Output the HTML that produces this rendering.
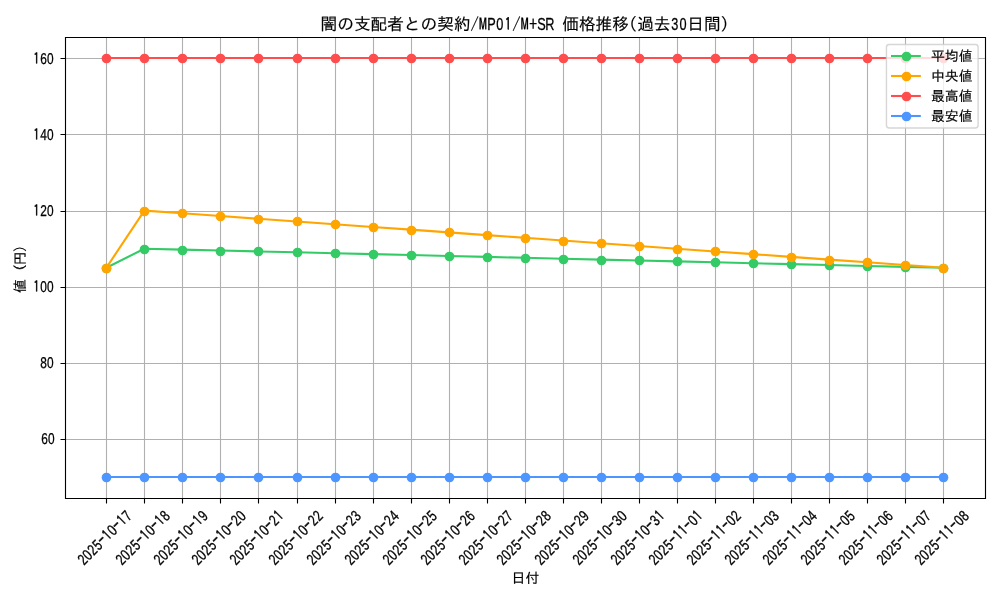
<!DOCTYPE html>
<html lang="ja"><head><meta charset="utf-8"><title>価格推移</title>
<style>html,body{margin:0;padding:0;background:#fff;overflow:hidden}svg{display:block}text{font-family:"IPAGothic", "Liberation Sans", sans-serif;fill:#000;stroke:#000;stroke-width:.16px;stroke-linejoin:round}.l{font-family:"Liberation Sans", "IPAGothic", sans-serif;stroke-width:.3px}.g{font-family:"IPAGothic", "Liberation Sans", sans-serif}.l .g{stroke-width:.5px}</style></head><body>
<svg width="1000" height="600" viewBox="0 0 1000 600">
<rect width="1000" height="600" fill="#fff"/>
<path d="M105.945 37.25h1.11V498.25h-1.11zM143.945 37.25h1.11V498.25h-1.11zM181.945 37.25h1.11V498.25h-1.11zM219.945 37.25h1.11V498.25h-1.11zM257.945 37.25h1.11V498.25h-1.11zM296.945 37.25h1.11V498.25h-1.11zM334.945 37.25h1.11V498.25h-1.11zM372.945 37.25h1.11V498.25h-1.11zM410.945 37.25h1.11V498.25h-1.11zM448.945 37.25h1.11V498.25h-1.11zM486.945 37.25h1.11V498.25h-1.11zM524.945 37.25h1.11V498.25h-1.11zM562.945 37.25h1.11V498.25h-1.11zM600.945 37.25h1.11V498.25h-1.11zM638.945 37.25h1.11V498.25h-1.11zM676.945 37.25h1.11V498.25h-1.11zM714.945 37.25h1.11V498.25h-1.11zM752.945 37.25h1.11V498.25h-1.11zM790.945 37.25h1.11V498.25h-1.11zM828.945 37.25h1.11V498.25h-1.11zM866.945 37.25h1.11V498.25h-1.11zM904.945 37.25h1.11V498.25h-1.11zM942.945 37.25h1.11V498.25h-1.11zM64.50 438.945H985.00v1.11H64.50zM64.50 362.945H985.00v1.11H64.50zM64.50 286.945H985.00v1.11H64.50zM64.50 210.945H985.00v1.11H64.50zM64.50 133.945H985.00v1.11H64.50zM64.50 57.945H985.00v1.11H64.50z" fill="#b0b0b0"/>
<path d="M105.945 498.50h1.11V503.50h-1.11zM143.945 498.50h1.11V503.50h-1.11zM181.945 498.50h1.11V503.50h-1.11zM219.945 498.50h1.11V503.50h-1.11zM257.945 498.50h1.11V503.50h-1.11zM296.945 498.50h1.11V503.50h-1.11zM334.945 498.50h1.11V503.50h-1.11zM372.945 498.50h1.11V503.50h-1.11zM410.945 498.50h1.11V503.50h-1.11zM448.945 498.50h1.11V503.50h-1.11zM486.945 498.50h1.11V503.50h-1.11zM524.945 498.50h1.11V503.50h-1.11zM562.945 498.50h1.11V503.50h-1.11zM600.945 498.50h1.11V503.50h-1.11zM638.945 498.50h1.11V503.50h-1.11zM676.945 498.50h1.11V503.50h-1.11zM714.945 498.50h1.11V503.50h-1.11zM752.945 498.50h1.11V503.50h-1.11zM790.945 498.50h1.11V503.50h-1.11zM828.945 498.50h1.11V503.50h-1.11zM866.945 498.50h1.11V503.50h-1.11zM904.945 498.50h1.11V503.50h-1.11zM942.945 498.50h1.11V503.50h-1.11zM60.50 438.945H65.50v1.11H60.50zM60.50 362.945H65.50v1.11H60.50zM60.50 286.945H65.50v1.11H60.50zM60.50 210.945H65.50v1.11H60.50zM60.50 133.945H65.50v1.11H60.50zM60.50 57.945H65.50v1.11H60.50z" fill="#000"/>
<polyline points="106.34,267.75 144.38,248.70 182.42,249.61 220.45,250.51 258.49,251.42 296.53,252.33 334.56,253.24 372.60,254.14 410.64,255.05 448.68,255.96 486.71,256.86 524.75,257.77 562.79,258.68 600.82,259.59 638.86,260.49 676.90,261.40 714.94,262.31 752.97,263.21 791.01,264.12 829.05,265.03 867.08,265.94 905.12,266.84 943.16,267.75" fill="none" stroke="#34cb67" stroke-width="2.08" stroke-linejoin="round" stroke-linecap="square"/>
<g fill="#34cb67"><circle cx="106.5" cy="268.5" r="4.86"/><circle cx="144.5" cy="249.5" r="4.86"/><circle cx="182.5" cy="250.5" r="4.86"/><circle cx="220.5" cy="251.5" r="4.86"/><circle cx="258.5" cy="251.5" r="4.86"/><circle cx="297.5" cy="252.5" r="4.86"/><circle cx="335.5" cy="253.5" r="4.86"/><circle cx="373.5" cy="254.5" r="4.86"/><circle cx="411.5" cy="255.5" r="4.86"/><circle cx="449.5" cy="256.5" r="4.86"/><circle cx="487.5" cy="257.5" r="4.86"/><circle cx="525.5" cy="258.5" r="4.86"/><circle cx="563.5" cy="259.5" r="4.86"/><circle cx="601.5" cy="260.5" r="4.86"/><circle cx="639.5" cy="260.5" r="4.86"/><circle cx="677.5" cy="261.5" r="4.86"/><circle cx="715.5" cy="262.5" r="4.86"/><circle cx="753.5" cy="263.5" r="4.86"/><circle cx="791.5" cy="264.5" r="4.86"/><circle cx="829.5" cy="265.5" r="4.86"/><circle cx="867.5" cy="266.5" r="4.86"/><circle cx="905.5" cy="267.5" r="4.86"/><circle cx="943.5" cy="268.5" r="4.86"/></g>
<polyline points="106.34,267.75 144.38,210.60 182.42,213.32 220.45,216.04 258.49,218.77 296.53,221.49 334.56,224.21 372.60,226.93 410.64,229.65 448.68,232.37 486.71,235.09 524.75,237.81 562.79,240.54 600.82,243.26 638.86,245.98 676.90,248.70 714.94,251.42 752.97,254.14 791.01,256.86 829.05,259.59 867.08,262.31 905.12,265.03 943.16,267.75" fill="none" stroke="#ffa500" stroke-width="2.08" stroke-linejoin="round" stroke-linecap="square"/>
<g fill="#ffa500"><circle cx="106.5" cy="268.5" r="4.86"/><circle cx="144.5" cy="211.5" r="4.86"/><circle cx="182.5" cy="213.5" r="4.86"/><circle cx="220.5" cy="216.5" r="4.86"/><circle cx="258.5" cy="219.5" r="4.86"/><circle cx="297.5" cy="221.5" r="4.86"/><circle cx="335.5" cy="224.5" r="4.86"/><circle cx="373.5" cy="227.5" r="4.86"/><circle cx="411.5" cy="230.5" r="4.86"/><circle cx="449.5" cy="232.5" r="4.86"/><circle cx="487.5" cy="235.5" r="4.86"/><circle cx="525.5" cy="238.5" r="4.86"/><circle cx="563.5" cy="241.5" r="4.86"/><circle cx="601.5" cy="243.5" r="4.86"/><circle cx="639.5" cy="246.5" r="4.86"/><circle cx="677.5" cy="249.5" r="4.86"/><circle cx="715.5" cy="251.5" r="4.86"/><circle cx="753.5" cy="254.5" r="4.86"/><circle cx="791.5" cy="257.5" r="4.86"/><circle cx="829.5" cy="260.5" r="4.86"/><circle cx="867.5" cy="262.5" r="4.86"/><circle cx="905.5" cy="265.5" r="4.86"/><circle cx="943.5" cy="268.5" r="4.86"/></g>
<polyline points="106.34,58.00 144.38,58.00 182.42,58.00 220.45,58.00 258.49,58.00 296.53,58.00 334.56,58.00 372.60,58.00 410.64,58.00 448.68,58.00 486.71,58.00 524.75,58.00 562.79,58.00 600.82,58.00 638.86,58.00 676.90,58.00 714.94,58.00 752.97,58.00 791.01,58.00 829.05,58.00 867.08,58.00 905.12,58.00 943.16,58.00" fill="none" stroke="#ff4d4d" stroke-width="2.08" stroke-linejoin="round" stroke-linecap="square"/>
<g fill="#ff4d4d"><circle cx="106.5" cy="58.5" r="4.86"/><circle cx="144.5" cy="58.5" r="4.86"/><circle cx="182.5" cy="58.5" r="4.86"/><circle cx="220.5" cy="58.5" r="4.86"/><circle cx="258.5" cy="58.5" r="4.86"/><circle cx="297.5" cy="58.5" r="4.86"/><circle cx="335.5" cy="58.5" r="4.86"/><circle cx="373.5" cy="58.5" r="4.86"/><circle cx="411.5" cy="58.5" r="4.86"/><circle cx="449.5" cy="58.5" r="4.86"/><circle cx="487.5" cy="58.5" r="4.86"/><circle cx="525.5" cy="58.5" r="4.86"/><circle cx="563.5" cy="58.5" r="4.86"/><circle cx="601.5" cy="58.5" r="4.86"/><circle cx="639.5" cy="58.5" r="4.86"/><circle cx="677.5" cy="58.5" r="4.86"/><circle cx="715.5" cy="58.5" r="4.86"/><circle cx="753.5" cy="58.5" r="4.86"/><circle cx="791.5" cy="58.5" r="4.86"/><circle cx="829.5" cy="58.5" r="4.86"/><circle cx="867.5" cy="58.5" r="4.86"/><circle cx="905.5" cy="58.5" r="4.86"/><circle cx="943.5" cy="58.5" r="4.86"/></g>
<polyline points="106.34,477.00 144.38,477.00 182.42,477.00 220.45,477.00 258.49,477.00 296.53,477.00 334.56,477.00 372.60,477.00 410.64,477.00 448.68,477.00 486.71,477.00 524.75,477.00 562.79,477.00 600.82,477.00 638.86,477.00 676.90,477.00 714.94,477.00 752.97,477.00 791.01,477.00 829.05,477.00 867.08,477.00 905.12,477.00 943.16,477.00" fill="none" stroke="#4d96ff" stroke-width="2.08" stroke-linejoin="round" stroke-linecap="square"/>
<g fill="#4d96ff"><circle cx="106.5" cy="477.5" r="4.86"/><circle cx="144.5" cy="477.5" r="4.86"/><circle cx="182.5" cy="477.5" r="4.86"/><circle cx="220.5" cy="477.5" r="4.86"/><circle cx="258.5" cy="477.5" r="4.86"/><circle cx="297.5" cy="477.5" r="4.86"/><circle cx="335.5" cy="477.5" r="4.86"/><circle cx="373.5" cy="477.5" r="4.86"/><circle cx="411.5" cy="477.5" r="4.86"/><circle cx="449.5" cy="477.5" r="4.86"/><circle cx="487.5" cy="477.5" r="4.86"/><circle cx="525.5" cy="477.5" r="4.86"/><circle cx="563.5" cy="477.5" r="4.86"/><circle cx="601.5" cy="477.5" r="4.86"/><circle cx="639.5" cy="477.5" r="4.86"/><circle cx="677.5" cy="477.5" r="4.86"/><circle cx="715.5" cy="477.5" r="4.86"/><circle cx="753.5" cy="477.5" r="4.86"/><circle cx="791.5" cy="477.5" r="4.86"/><circle cx="829.5" cy="477.5" r="4.86"/><circle cx="867.5" cy="477.5" r="4.86"/><circle cx="905.5" cy="477.5" r="4.86"/><circle cx="943.5" cy="477.5" r="4.86"/></g>
<path d="M64.945 36.95h1.11V499.06h-1.11zM984.945 36.95h1.11V499.06h-1.11zM64.94 36.945H986.05v1.11H64.94zM64.94 497.945H986.05v1.11H64.94z" fill="#000"/>
<text font-size="16.667" x="320.58" y="29.50">闇の支配者との契約/M</text><text class="l" text-anchor="middle" font-size="17.20" transform="translate(487.25 30.00) scale(0.740 1)" x="5.63 16.89 28.15" y="0">P0<tspan class="g" font-size="16.98">1</tspan></text><text font-size="16.667" x="512.25" y="29.50">/M+</text><text class="l" text-anchor="middle" font-size="17.20" transform="translate(537.25 30.00) scale(0.740 1)" x="5.63 16.89" y="0">SR</text><text font-size="16.667" x="553.92" y="29.50">&#160;価格推移(過去</text><text class="l" text-anchor="middle" font-size="17.20" transform="translate(670.59 30.00) scale(0.740 1)" x="5.63 16.89" y="0">30</text><text font-size="16.667" x="687.25" y="29.50">日間)</text>
<text class="l" text-anchor="middle" font-size="15.60" transform="translate(40.99 444.10) rotate(0.03) scale(0.760 1)" x="4.57 13.71" y="0">60</text>
<text class="l" text-anchor="middle" font-size="15.60" transform="translate(39.99 368.10) rotate(0.03) scale(0.760 1)" x="4.57 13.71" y="0">80</text>
<text class="l" text-anchor="middle" font-size="15.60" transform="translate(33.05 292.10) rotate(0.03) scale(0.760 1)" x="4.57 13.71 22.84" y="0"><tspan class="g" font-size="15.40">1</tspan>00</text>
<text class="l" text-anchor="middle" font-size="15.60" transform="translate(33.05 216.10) rotate(0.03) scale(0.760 1)" x="4.57 13.71 22.84" y="0"><tspan class="g" font-size="15.40">1</tspan>20</text>
<text class="l" text-anchor="middle" font-size="15.60" transform="translate(33.05 140.10) rotate(0.03) scale(0.760 1)" x="4.57 13.71 22.84" y="0"><tspan class="g" font-size="15.40">1</tspan>40</text>
<text class="l" text-anchor="middle" font-size="15.60" transform="translate(33.05 64.10) rotate(0.03) scale(0.760 1)" x="4.57 13.71 22.84" y="0"><tspan class="g" font-size="15.40">1</tspan>60</text>
<text class="l" text-anchor="middle" font-size="15.60" transform="translate(104.50 537.50) rotate(-45) translate(-34.72 5.50) scale(0.760 1)" x="4.57 13.71 22.84 31.98 41.12 50.26 59.39 68.53 77.67 86.81" y="0">2025<tspan class="g" font-size="17.47">-</tspan><tspan class="g" font-size="15.40">1</tspan>0<tspan class="g" font-size="17.47">-</tspan><tspan class="g" font-size="15.40">1</tspan>7</text>
<text class="l" text-anchor="middle" font-size="15.60" transform="translate(142.50 537.50) rotate(-45) translate(-34.72 5.50) scale(0.760 1)" x="4.57 13.71 22.84 31.98 41.12 50.26 59.39 68.53 77.67 86.81" y="0">2025<tspan class="g" font-size="17.47">-</tspan><tspan class="g" font-size="15.40">1</tspan>0<tspan class="g" font-size="17.47">-</tspan><tspan class="g" font-size="15.40">1</tspan>8</text>
<text class="l" text-anchor="middle" font-size="15.60" transform="translate(180.50 537.50) rotate(-45) translate(-34.72 5.50) scale(0.760 1)" x="4.57 13.71 22.84 31.98 41.12 50.26 59.39 68.53 77.67 86.81" y="0">2025<tspan class="g" font-size="17.47">-</tspan><tspan class="g" font-size="15.40">1</tspan>0<tspan class="g" font-size="17.47">-</tspan><tspan class="g" font-size="15.40">1</tspan>9</text>
<text class="l" text-anchor="middle" font-size="15.60" transform="translate(218.50 537.50) rotate(-45) translate(-34.72 5.50) scale(0.760 1)" x="4.57 13.71 22.84 31.98 41.12 50.26 59.39 68.53 77.67 86.81" y="0">2025<tspan class="g" font-size="17.47">-</tspan><tspan class="g" font-size="15.40">1</tspan>0<tspan class="g" font-size="17.47">-</tspan>20</text>
<text class="l" text-anchor="middle" font-size="15.60" transform="translate(256.50 537.50) rotate(-45) translate(-34.72 5.50) scale(0.760 1)" x="4.57 13.71 22.84 31.98 41.12 50.26 59.39 68.53 77.67 86.81" y="0">2025<tspan class="g" font-size="17.47">-</tspan><tspan class="g" font-size="15.40">1</tspan>0<tspan class="g" font-size="17.47">-</tspan>2<tspan class="g" font-size="15.40">1</tspan></text>
<text class="l" text-anchor="middle" font-size="15.60" transform="translate(295.50 537.50) rotate(-45) translate(-34.72 5.50) scale(0.760 1)" x="4.57 13.71 22.84 31.98 41.12 50.26 59.39 68.53 77.67 86.81" y="0">2025<tspan class="g" font-size="17.47">-</tspan><tspan class="g" font-size="15.40">1</tspan>0<tspan class="g" font-size="17.47">-</tspan>22</text>
<text class="l" text-anchor="middle" font-size="15.60" transform="translate(333.50 537.50) rotate(-45) translate(-34.72 5.50) scale(0.760 1)" x="4.57 13.71 22.84 31.98 41.12 50.26 59.39 68.53 77.67 86.81" y="0">2025<tspan class="g" font-size="17.47">-</tspan><tspan class="g" font-size="15.40">1</tspan>0<tspan class="g" font-size="17.47">-</tspan>23</text>
<text class="l" text-anchor="middle" font-size="15.60" transform="translate(371.50 537.50) rotate(-45) translate(-34.72 5.50) scale(0.760 1)" x="4.57 13.71 22.84 31.98 41.12 50.26 59.39 68.53 77.67 86.81" y="0">2025<tspan class="g" font-size="17.47">-</tspan><tspan class="g" font-size="15.40">1</tspan>0<tspan class="g" font-size="17.47">-</tspan>24</text>
<text class="l" text-anchor="middle" font-size="15.60" transform="translate(409.50 537.50) rotate(-45) translate(-34.72 5.50) scale(0.760 1)" x="4.57 13.71 22.84 31.98 41.12 50.26 59.39 68.53 77.67 86.81" y="0">2025<tspan class="g" font-size="17.47">-</tspan><tspan class="g" font-size="15.40">1</tspan>0<tspan class="g" font-size="17.47">-</tspan>25</text>
<text class="l" text-anchor="middle" font-size="15.60" transform="translate(447.50 537.50) rotate(-45) translate(-34.72 5.50) scale(0.760 1)" x="4.57 13.71 22.84 31.98 41.12 50.26 59.39 68.53 77.67 86.81" y="0">2025<tspan class="g" font-size="17.47">-</tspan><tspan class="g" font-size="15.40">1</tspan>0<tspan class="g" font-size="17.47">-</tspan>26</text>
<text class="l" text-anchor="middle" font-size="15.60" transform="translate(485.50 537.50) rotate(-45) translate(-34.72 5.50) scale(0.760 1)" x="4.57 13.71 22.84 31.98 41.12 50.26 59.39 68.53 77.67 86.81" y="0">2025<tspan class="g" font-size="17.47">-</tspan><tspan class="g" font-size="15.40">1</tspan>0<tspan class="g" font-size="17.47">-</tspan>27</text>
<text class="l" text-anchor="middle" font-size="15.60" transform="translate(523.50 537.50) rotate(-45) translate(-34.72 5.50) scale(0.760 1)" x="4.57 13.71 22.84 31.98 41.12 50.26 59.39 68.53 77.67 86.81" y="0">2025<tspan class="g" font-size="17.47">-</tspan><tspan class="g" font-size="15.40">1</tspan>0<tspan class="g" font-size="17.47">-</tspan>28</text>
<text class="l" text-anchor="middle" font-size="15.60" transform="translate(561.50 537.50) rotate(-45) translate(-34.72 5.50) scale(0.760 1)" x="4.57 13.71 22.84 31.98 41.12 50.26 59.39 68.53 77.67 86.81" y="0">2025<tspan class="g" font-size="17.47">-</tspan><tspan class="g" font-size="15.40">1</tspan>0<tspan class="g" font-size="17.47">-</tspan>29</text>
<text class="l" text-anchor="middle" font-size="15.60" transform="translate(599.50 537.50) rotate(-45) translate(-34.72 5.50) scale(0.760 1)" x="4.57 13.71 22.84 31.98 41.12 50.26 59.39 68.53 77.67 86.81" y="0">2025<tspan class="g" font-size="17.47">-</tspan><tspan class="g" font-size="15.40">1</tspan>0<tspan class="g" font-size="17.47">-</tspan>30</text>
<text class="l" text-anchor="middle" font-size="15.60" transform="translate(637.50 537.50) rotate(-45) translate(-34.72 5.50) scale(0.760 1)" x="4.57 13.71 22.84 31.98 41.12 50.26 59.39 68.53 77.67 86.81" y="0">2025<tspan class="g" font-size="17.47">-</tspan><tspan class="g" font-size="15.40">1</tspan>0<tspan class="g" font-size="17.47">-</tspan>3<tspan class="g" font-size="15.40">1</tspan></text>
<text class="l" text-anchor="middle" font-size="15.60" transform="translate(675.50 537.50) rotate(-45) translate(-34.72 5.50) scale(0.760 1)" x="4.57 13.71 22.84 31.98 41.12 50.26 59.39 68.53 77.67 86.81" y="0">2025<tspan class="g" font-size="17.47">-</tspan><tspan class="g" font-size="15.40">1</tspan><tspan class="g" font-size="15.40">1</tspan><tspan class="g" font-size="17.47">-</tspan>0<tspan class="g" font-size="15.40">1</tspan></text>
<text class="l" text-anchor="middle" font-size="15.60" transform="translate(713.50 537.50) rotate(-45) translate(-34.72 5.50) scale(0.760 1)" x="4.57 13.71 22.84 31.98 41.12 50.26 59.39 68.53 77.67 86.81" y="0">2025<tspan class="g" font-size="17.47">-</tspan><tspan class="g" font-size="15.40">1</tspan><tspan class="g" font-size="15.40">1</tspan><tspan class="g" font-size="17.47">-</tspan>02</text>
<text class="l" text-anchor="middle" font-size="15.60" transform="translate(751.50 537.50) rotate(-45) translate(-34.72 5.50) scale(0.760 1)" x="4.57 13.71 22.84 31.98 41.12 50.26 59.39 68.53 77.67 86.81" y="0">2025<tspan class="g" font-size="17.47">-</tspan><tspan class="g" font-size="15.40">1</tspan><tspan class="g" font-size="15.40">1</tspan><tspan class="g" font-size="17.47">-</tspan>03</text>
<text class="l" text-anchor="middle" font-size="15.60" transform="translate(789.50 537.50) rotate(-45) translate(-34.72 5.50) scale(0.760 1)" x="4.57 13.71 22.84 31.98 41.12 50.26 59.39 68.53 77.67 86.81" y="0">2025<tspan class="g" font-size="17.47">-</tspan><tspan class="g" font-size="15.40">1</tspan><tspan class="g" font-size="15.40">1</tspan><tspan class="g" font-size="17.47">-</tspan>04</text>
<text class="l" text-anchor="middle" font-size="15.60" transform="translate(827.50 537.50) rotate(-45) translate(-34.72 5.50) scale(0.760 1)" x="4.57 13.71 22.84 31.98 41.12 50.26 59.39 68.53 77.67 86.81" y="0">2025<tspan class="g" font-size="17.47">-</tspan><tspan class="g" font-size="15.40">1</tspan><tspan class="g" font-size="15.40">1</tspan><tspan class="g" font-size="17.47">-</tspan>05</text>
<text class="l" text-anchor="middle" font-size="15.60" transform="translate(865.50 537.50) rotate(-45) translate(-34.72 5.50) scale(0.760 1)" x="4.57 13.71 22.84 31.98 41.12 50.26 59.39 68.53 77.67 86.81" y="0">2025<tspan class="g" font-size="17.47">-</tspan><tspan class="g" font-size="15.40">1</tspan><tspan class="g" font-size="15.40">1</tspan><tspan class="g" font-size="17.47">-</tspan>06</text>
<text class="l" text-anchor="middle" font-size="15.60" transform="translate(903.50 537.50) rotate(-45) translate(-34.72 5.50) scale(0.760 1)" x="4.57 13.71 22.84 31.98 41.12 50.26 59.39 68.53 77.67 86.81" y="0">2025<tspan class="g" font-size="17.47">-</tspan><tspan class="g" font-size="15.40">1</tspan><tspan class="g" font-size="15.40">1</tspan><tspan class="g" font-size="17.47">-</tspan>07</text>
<text class="l" text-anchor="middle" font-size="15.60" transform="translate(941.50 537.50) rotate(-45) translate(-34.72 5.50) scale(0.760 1)" x="4.57 13.71 22.84 31.98 41.12 50.26 59.39 68.53 77.67 86.81" y="0">2025<tspan class="g" font-size="17.47">-</tspan><tspan class="g" font-size="15.40">1</tspan><tspan class="g" font-size="15.40">1</tspan><tspan class="g" font-size="17.47">-</tspan>08</text>
<text font-size="13.889" x="511.60" y="582.70">日付</text>
<text font-size="13.889" transform="translate(25.00 293.00) rotate(-90)" x="0 13.89 21.8 27.78 40.7" y="0">値&#160;(円)</text>
<rect x="886.45" y="44.45" width="91.65" height="83.50" rx="2.78" ry="2.78" fill="#fff" fill-opacity="0.8" stroke="#ccc" stroke-opacity="0.8" stroke-width="1.39"/>
<path d="M892.01 56.00H919.79" stroke="#34cb67" stroke-width="2.08" stroke-linecap="square"/>
<circle cx="906.50" cy="56.50" r="4.86" fill="#34cb67"/>
<text font-size="13.889" x="930.90" y="61.00">平均値</text>
<path d="M892.01 76.00H919.79" stroke="#ffa500" stroke-width="2.08" stroke-linecap="square"/>
<circle cx="906.50" cy="76.50" r="4.86" fill="#ffa500"/>
<text font-size="13.889" x="930.90" y="81.00">中央値</text>
<path d="M892.01 96.00H919.79" stroke="#ff4d4d" stroke-width="2.08" stroke-linecap="square"/>
<circle cx="906.50" cy="96.50" r="4.86" fill="#ff4d4d"/>
<text font-size="13.889" x="930.90" y="101.00">最高値</text>
<path d="M892.01 116.00H919.79" stroke="#4d96ff" stroke-width="2.08" stroke-linecap="square"/>
<circle cx="906.50" cy="116.50" r="4.86" fill="#4d96ff"/>
<text font-size="13.889" x="930.90" y="121.00">最安値</text>
</svg></body></html>
